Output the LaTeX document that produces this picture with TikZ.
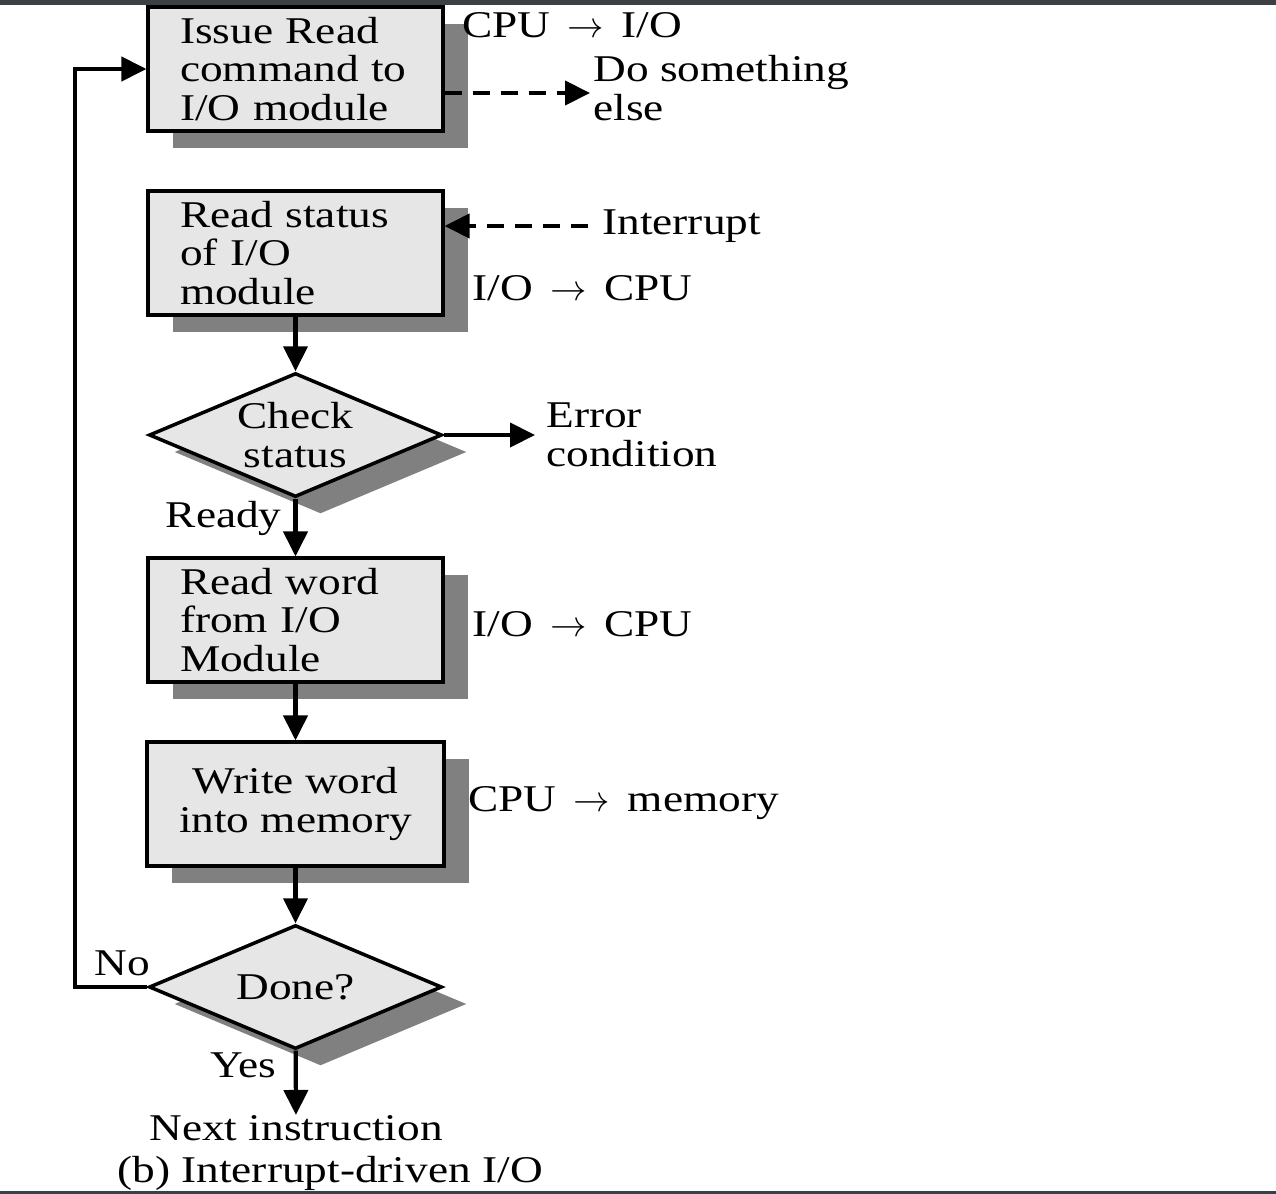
\documentclass[tikz,border=0pt]{standalone}
\usepackage{fontspec}
\setmainfont[FakeStretch=1.2]{Liberation Serif}
\usetikzlibrary{shapes.geometric,shadows,arrows.meta,positioning}
\definecolor{boxgray}{HTML}{E6E6E6}
\definecolor{shadowgray}{HTML}{808080}
\definecolor{bargray}{HTML}{3C3F43}
\begin{document}
\begin{tikzpicture}[x=0.02cm, y=-0.02cm, font=\fontsize{21.5}{22}\selectfont, line join=miter,
	shade/.style={drop shadow={shadow xshift=0.5cm, shadow yshift=-0.34cm, fill=shadowgray, opacity=1}},
	box/.style={draw, line width=1.8pt, fill=boxgray, shade, minimum width=5.9cm, minimum height=2.48cm,
		inner xsep=0.64cm, inner ysep=0.05cm, text width=4.62cm, align=left},
	decide/.style={diamond, draw, line width=2pt, fill=boxgray, shade, aspect=2.36, inner sep=0pt,
		minimum width=5.86cm, minimum height=2.48cm, align=center},
	flow/.style={line width=2.4pt, -{Triangle[length=0.5cm, width=0.48cm]}},
	dashflow/.style={flow, dash pattern=on 0.34cm off 0.22cm},
	lbl/.style={inner sep=0pt, align=left}]
	\useasboundingbox (0,0) rectangle (1276,1194);
	\fill[bargray] (0,0) rectangle (1276,5);
	\fill[bargray] (0,1191) rectangle (1276,1194);
	% flow chart
	\node[box] (issue) at (295.5,69) {Issue Read\\command to\\I/O module};
	\node[box] (status) at (295.5,253) {Read status\\of I/O\\module};
	\node[decide] (check) at (295.5,435) {Check\\status};
	\node[box] (readw) at (295.5,620) {Read word\\from I/O\\Module};
	\node[box, align=center, text width=] (writew) at (295.5,804) {Write word\\into memory};
	\node[decide] (done) at (295.5,987) {Done?};
	\node[lbl] (next) at (296,1128) {Next instruction};
	\node[lbl] (caption) at (330,1173) {(b) Interrupt-driven I/O};
	% side labels
	\node[lbl, anchor=west] (cpuio) at (462,25) {CPU \ensuremath{\,\rightarrow\,} I/O};
	\node[lbl, anchor=west] (other) at (593,88) {Do something\\else};
	\node[lbl, anchor=west] (intr) at (602,226) {Interrupt};
	\node[lbl, anchor=west] (iocpua) at (472,288) {I/O \ensuremath{\,\rightarrow\,} CPU};
	\node[lbl, anchor=west] (err) at (546,435) {Error\\condition};
	\node[lbl, anchor=east] (ready) at (282,518) {Ready};
	\node[lbl, anchor=west] (iocpub) at (472,624) {I/O \ensuremath{\,\rightarrow\,} CPU};
	\node[lbl, anchor=west] (cpumem) at (468,803) {CPU \ensuremath{\,\rightarrow\,} memory};
	\node[lbl] (no) at (122,963) {No};
	\node[lbl] (yes) at (243,1065) {Yes};
	\coordinate (otherend) at (590,93);
	\coordinate (intrend) at (588,226);
	\coordinate (errend) at (535,435);
	% connectors
	\draw[flow] (status) -- (check);
	\draw[flow] (check) -- (readw);
	\draw[flow] (readw) -- (writew);
	\draw[flow] (writew) -- (done);
	\draw[flow] (done) -- (next);
	\draw[flow] (check.east) -- (errend);
	\draw[dashflow] (issue.east |- otherend) -- (otherend);
	\draw[dashflow] (intrend) -- (status.east |- intrend);
	\draw[flow] (done.west) -- ++(-72,0) |- (issue.west);
\end{tikzpicture}
\end{document}
